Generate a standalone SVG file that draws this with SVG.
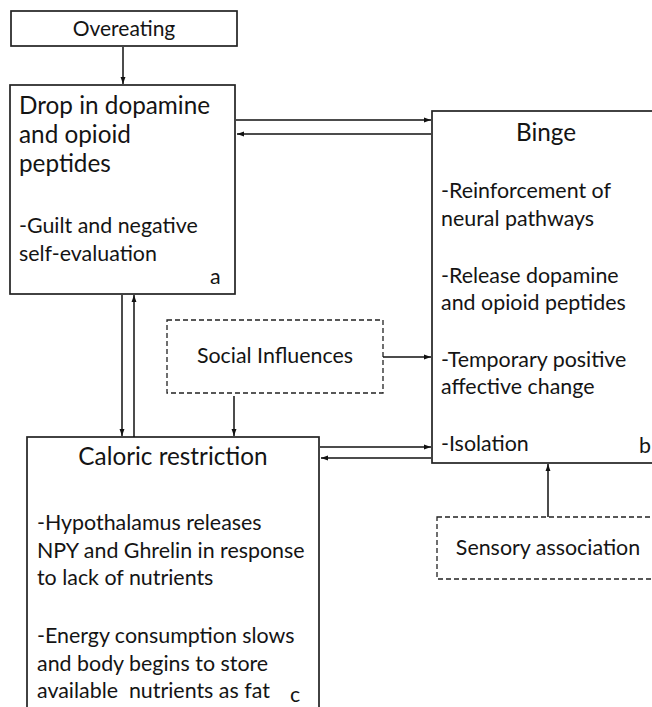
<svg xmlns="http://www.w3.org/2000/svg" width="652" height="707" viewBox="0 0 652 707">
<defs>
<marker id="ah" viewBox="0 0 10 10" refX="10" refY="5" markerWidth="7" markerHeight="7" orient="auto" markerUnits="userSpaceOnUse">
<path d="M0,1.5 L10,5 L0,8.5 z" fill="#111"/>
</marker>
<style>
.box{fill:#fff;stroke:#222;stroke-width:1.7}
.dash{fill:#fff;stroke:#222;stroke-width:1.3;stroke-dasharray:5,3}
.t{font-family:Lato,"Liberation Sans",sans-serif;fill:#141414}
.big{font-size:24.3px}
.mid{font-size:21.4px}
.sm{font-size:21px}
.ln{stroke:#111;stroke-width:1.5;fill:none;marker-end:url(#ah)}
</style>
</defs>
<rect width="652" height="707" fill="#fff"/>
<g id="overeating">
<rect class="box" x="11" y="11" width="226" height="35"/>
<text class="t sm" x="124" y="36" text-anchor="middle">Overeating</text>
</g>
<g id="node-a">
<rect class="box" x="10" y="85" width="225" height="209"/>
<text class="t big" x="19" y="114">Drop in dopamine</text>
<text class="t big" x="19" y="143">and opioid</text>
<text class="t big" x="19" y="172">peptides</text>
<text class="t mid" x="19" y="233">-Guilt and negative</text>
<text class="t mid" x="19" y="261">self-evaluation</text>
<text class="t mid" x="210" y="284">a</text>
</g>
<g id="node-b">
<rect class="box" x="432" y="111" width="240" height="352"/>
<text class="t big" x="546" y="141" text-anchor="middle">Binge</text>
<text class="t mid" x="441" y="198">-Reinforcement of</text>
<text class="t mid" x="441" y="226">neural pathways</text>
<text class="t mid" x="441" y="283">-Release dopamine</text>
<text class="t mid" x="441" y="310">and opioid peptides</text>
<text class="t mid" x="441" y="367">-Temporary positive</text>
<text class="t mid" x="441" y="394">affective change</text>
<text class="t mid" x="441" y="451">-Isolation</text>
<text class="t mid" x="639" y="453">b</text>
</g>
<g id="social">
<rect class="dash" x="167" y="320" width="216" height="73"/>
<text class="t mid" x="275" y="363" text-anchor="middle">Social Influences</text>
</g>
<g id="node-c">
<rect class="box" x="27" y="437" width="292" height="290"/>
<text class="t big" x="173" y="465" text-anchor="middle">Caloric restriction</text>
<text class="t mid" x="37" y="530">-Hypothalamus releases</text>
<text class="t mid" x="37" y="558">NPY and Ghrelin in response</text>
<text class="t mid" x="37" y="585">to lack of nutrients</text>
<text class="t mid" x="37" y="643">-Energy consumption slows</text>
<text class="t mid" x="37" y="671">and body begins to store</text>
<text class="t mid" x="37" y="698" xml:space="preserve">available  nutrients as fat</text>
<text class="t mid" x="290" y="702">c</text>
</g>
<g id="sensory">
<rect class="dash" x="437" y="517" width="240" height="62"/>
<text class="t mid" x="548" y="555" text-anchor="middle">Sensory association</text>
</g>
<g id="connectors">
<line class="ln" x1="123" y1="47" x2="123" y2="84"/>
<line class="ln" x1="236" y1="120" x2="431" y2="120"/>
<line class="ln" x1="431" y1="134" x2="237" y2="134"/>
<line class="ln" x1="122" y1="295" x2="122" y2="436"/>
<line class="ln" x1="134" y1="437" x2="134" y2="295"/>
<line class="ln" x1="383" y1="357" x2="431" y2="357"/>
<line class="ln" x1="234" y1="396" x2="234" y2="436"/>
<line class="ln" x1="320" y1="447" x2="431" y2="447"/>
<line class="ln" x1="431" y1="458" x2="321" y2="458"/>
<line class="ln" x1="548" y1="517" x2="548" y2="464"/>
</g>
</svg>
